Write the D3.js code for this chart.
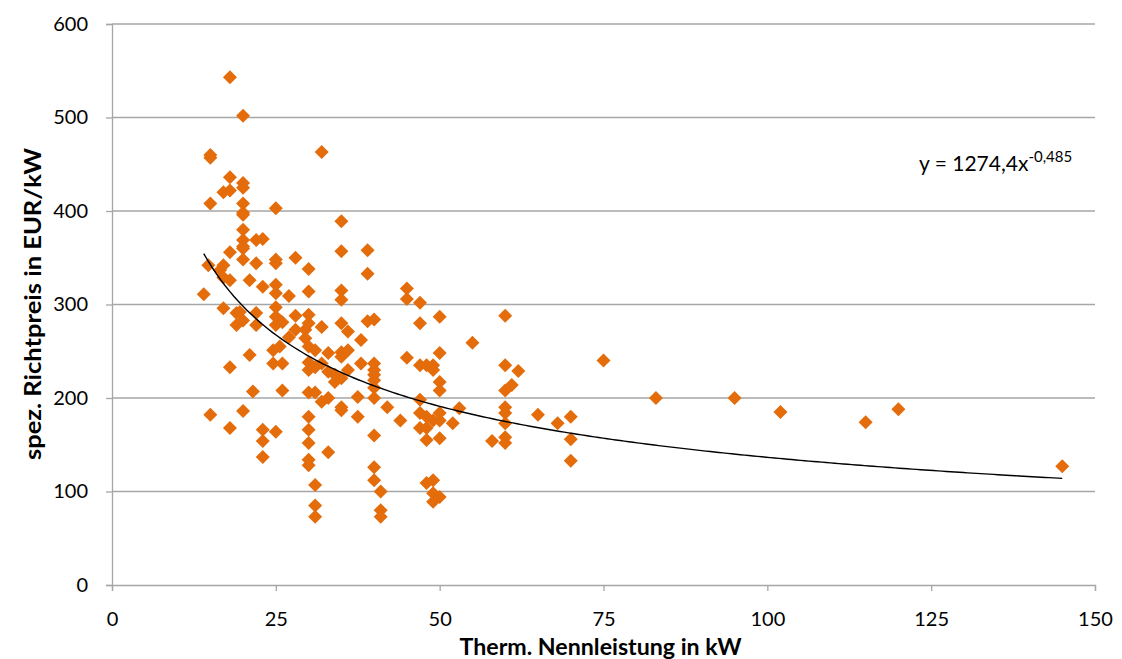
<!DOCTYPE html>
<html><head><meta charset="utf-8">
<script src="https://cdn.jsdelivr.net/npm/d3@7"></script>
<style>body{margin:0;background:#fff}svg{display:block}text{font-family:Lato,"Open Sans",sans-serif}</style>
</head><body>
<svg id="c" width="1122" height="659"></svg>
<script>
// Data: thermal rated power (kW) and specific list price (EUR/kW)
const powerKW = [
 14,14.7,
 15,15,15,15,
 16.5,
 17,17,17,17,
 18,18,18,18,18,18,18,
 19,19,19.5,
 20,20,20,20,20,20,20,20,20,20,20,20,20,
 21,21,21.5,
 22,22,22,22,
 23,23,23,23,23,
 24.6,24.6,
 25,25,25,25,25,25,25,25,25,
 25.6,25.6,
 26,26,26,
 27,27,
 28,28,28,
 29.5,29.5,
 30,30,30,30,30,30,30,30,30,30,30,30,30,
 31,31,31,31,31,31,
 32,32,32,32,
 33,33,33,33,
 34,34,
 35,35,35,35,35,35,35,35,35,35,
 36,36,36,
 37.5,37.5,
 38,38,
 39,39,39,
 40,40,40,40,40,40,40,40,40,40,
 41,41,41,
 42,44,
 45,45,45,
 47,47,47,47,47,47,
 48,48,48,48,48,
 49,49,49,49,49,49,
 50,50,50,50,50,50,50,50,
 52,53,55,58,
 60,60,60,60,60,60,60,60,
 61,62,65,68,
 70,70,70,
 75,83,95,102,115,120,145
];
const priceEURperKW = [
 311,342,
 460,457,408,182,
 337,
 420,342,329,296,
 543,436,422,356,326,233,168,
 291,278,292,
 502,430,425,408,398,396,380,369,362,360,348,283,186,
 326,246,207,
 369,344,291,278,
 370,319,166,154,137,
 251,237,
 403,344,348,321,312,297,287,278,164,
 283,255,
 281,237,208,
 309,265,
 350,288,273,
 264,273,
 338,314,289,280,255,238,230,206,180,166,152,134,128,
 251,233,206,107,85,73,
 463,276,237,196,
 248,228,200,142,
 225,217,
 389,357,315,305,280,249,244,221,190,187,
 271,251,230,
 201,180,
 262,237,
 358,333,282,
 284,237,230,225,219,211,200,160,126,112,
 100,80,73,
 190,176,
 317,306,243,
 302,280,235,198,184,168,
 235,180,168,155,109,
 235,230,176,112,98,89,
 287,248,217,208,184,176,157,94,
 173,189,259,154,
 288,235,208,190,184,173,158,152,
 214,229,182,173,
 180,156,133,
 240,200,200,185,174,188,127
];
// Power trendline shown in the chart: y = a * x^b
const trendA = 1274.4;
const trendB = -0.485;
const trendLabel = ["y = 1274,4x", "-0,485"];
const xTicks = [0,25,50,75,100,125,150];
const yTicks = [0,100,200,300,400,500,600];
const xTitle = "Therm. Nennleistung in kW";
const yTitle = "spez. Richtpreis in EUR/kW";

const svg = d3.select("#c");
const L = 112, R = 1095, T = 24, B = 585;
const x = d3.scaleLinear().domain([0,150]).range([L,R]);
const y = d3.scaleLinear().domain([0,600]).range([B,T]);
const grid = "#a6a6a6";

// gridlines
svg.append("g").selectAll("line").data(yTicks.filter(d=>d>0)).join("line")
  .attr("x1",L).attr("x2",R).attr("y1",d=>y(d)).attr("y2",d=>y(d))
  .attr("stroke",grid).attr("stroke-width",1.3);

// y axis
const ya = svg.append("g").attr("transform",`translate(${L},0)`)
  .call(d3.axisLeft(y).tickValues(yTicks).tickSize(6).tickPadding(18));
// x axis
const xa = svg.append("g").attr("transform",`translate(0,${B})`)
  .call(d3.axisBottom(x).tickValues(xTicks).tickSize(6).tickPadding(21));
[ya,xa].forEach(a=>{
  a.select(".domain").attr("stroke",grid).attr("stroke-width",1.3);
  a.selectAll(".tick line").attr("stroke",grid).attr("stroke-width",1.3);
  a.selectAll(".tick text").attr("fill","#000").style("font-size","20px").style("font-family","Lato, sans-serif");
});

// points (diamonds)
const h = 7;
svg.append("g").selectAll("path").data(powerKW.map((p,i)=>[p,priceEURperKW[i]])).join("path")
  .attr("d",d=>{const cx=x(d[0]),cy=y(d[1]);return `M${cx},${cy-h}L${cx+h},${cy}L${cx},${cy+h}L${cx-h},${cy}Z`;})
  .attr("fill","#e46c0a");

// trendline
const xmin = d3.min(powerKW), xmax = d3.max(powerKW);
const tx = d3.range(0,201).map(i=>xmin+(xmax-xmin)*i/200);
svg.append("path").datum(tx)
  .attr("d",d3.line().x(v=>x(v)).y(v=>y(trendA*Math.pow(v,trendB))))
  .attr("fill","none").attr("stroke","#000").attr("stroke-width",1.4);

// equation
const eq = svg.append("text").attr("x",919).attr("y",171).style("font-size","21px").attr("fill","#000");
eq.append("tspan").text(trendLabel[0]);
eq.append("tspan").attr("dy",-9).style("font-size","15px").text(trendLabel[1]);

// axis titles
svg.append("text").attr("x",(L+R)/2 - 3).attr("y",655).attr("text-anchor","middle")
  .attr("textLength",282).attr("lengthAdjust","spacingAndGlyphs")
  .style("font-size","22px").style("font-weight","bold").text(xTitle);
svg.append("text").attr("transform",`translate(41,304) rotate(-90)`).attr("text-anchor","middle")
  .attr("textLength",312).attr("lengthAdjust","spacingAndGlyphs")
  .style("font-size","22px").style("font-weight","bold").text(yTitle);
</script>
</body></html>
